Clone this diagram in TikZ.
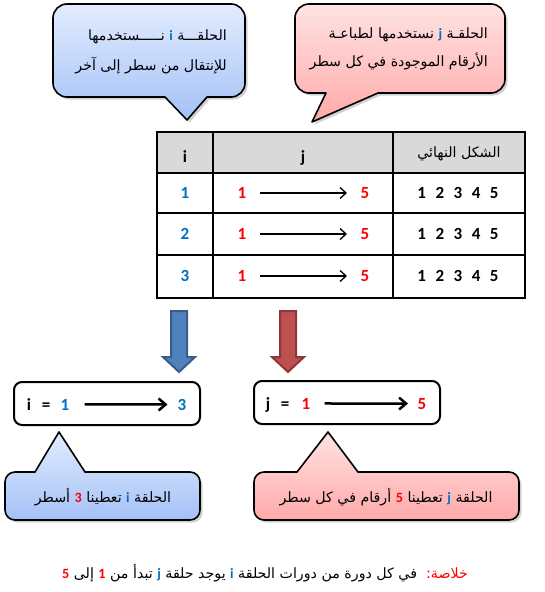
\documentclass[tikz,border=0pt]{standalone}
\usepackage{fontspec}
\setmainfont{Carlito}
\newfontfamily\arfont[Script=Arabic]{DejaVu Sans}
\TeXXeTstate=1
\usetikzlibrary{arrows.meta}
\definecolor{ib}{HTML}{0070C0}
\definecolor{jr}{HTML}{FF0000}
\definecolor{hdr}{HTML}{D9D9D9}
\definecolor{bluetop}{HTML}{E3ECFF}
\definecolor{bluebot}{HTML}{A3C1F6}
\definecolor{redtop}{HTML}{FFE3E3}
\definecolor{redbot}{HTML}{FFA9A9}
\definecolor{barfill}{HTML}{4F81BD}
\definecolor{barline}{HTML}{385D8A}
\definecolor{rarfill}{HTML}{C0504D}
\definecolor{rarline}{HTML}{8C3836}
\newcommand\AR[1]{{\arfont\beginR #1\endR}}
\newcommand\LB[1]{{\rmfamily\bfseries #1}}
\newcommand\digs{1\hskip 9.5pt 2\hskip 9.5pt 3\hskip 9.5pt 4\hskip 9.5pt 5}
\tikzset{
  num/.style={font=\fontsize{17}{20}\selectfont\bfseries, inner sep=0pt},
  artext/.style={font=\fontsize{14.2}{17}\selectfont\arfont, inner sep=0pt},
  grid/.style={line width=2pt, line cap=rect},
  thinarrow/.style={line width=1.3pt, -{Straight Barb[length=6pt,width=11pt]}},
  thickarrow/.style={line width=2.5pt, -{Straight Barb[length=7pt,width=12pt]}},
  outline/.style={draw=black, line width=1.6pt, line join=round},
  shadowed/.style={fill=black, opacity=0.18},
  bigarrow/.style={line width=2pt, line join=miter},
  loopbox/.style={draw=black, line width=2pt, rounded corners=8pt, fill=white},
}
\begin{document}
\begin{tikzpicture}[x=1pt,y=-1pt]
\useasboundingbox (0,0) rectangle (545,592);
% ---------- top blue callout ----------
\def\calA{(67,4) -- (231,4) arc[start angle=270,end angle=360,radius=14] -- (245,83) arc[start angle=0,end angle=90,radius=14] -- (207,97) -- (187,120) -- (165,97) -- (67,97) arc[start angle=90,end angle=180,radius=14] -- (53,18) arc[start angle=180,end angle=270,radius=14] -- cycle}
\fill[shadowed, shift={(2.5,2.5)}] \calA;
\shade[top color=bluetop, bottom color=bluebot] \calA;
\draw[outline] \calA;
\node[artext, anchor=base east] (ta1) at (227,40) {\AR{نـــــستخدمها} \textcolor{ib}{\LB{i}} \AR{الحلقـــة}};
\node[artext, anchor=base east] (ta2) at (227,70) {\AR{للإنتقال من سطر إلى آخر}};
% ---------- top red callout ----------
\def\calB{(309,4) -- (491,4) arc[start angle=270,end angle=360,radius=14] -- (505,79) arc[start angle=0,end angle=90,radius=14] -- (378,93) -- (312,122) -- (326,93) -- (309,93) arc[start angle=90,end angle=180,radius=14] -- (295,18) arc[start angle=180,end angle=270,radius=14] -- cycle}
\fill[shadowed, shift={(2.5,2.5)}] \calB;
\shade[top color=redtop, bottom color=redbot] \calB;
\draw[outline] \calB;
\node[artext, anchor=base east] (tb1) at (488,38) {\AR{نستخدمها لطباعـة} \textcolor{ib}{\LB{j}} \AR{الحلقـة}};
\node[artext, anchor=base east] (tb2) at (488,66) {\AR{الأرقام الموجودة في كل سطر}};
% ---------- table ----------
\fill[hdr] (157,132) rectangle (525,173);
\draw[grid] (157,132) rectangle (525,298);
\draw[grid] (157,173) -- (525,173);
\draw[grid] (157,213) -- (525,213);
\draw[grid] (157,255) -- (525,255);
\draw[grid] (213,132) -- (213,298);
\draw[grid] (393,132) -- (393,298);
\node[num, anchor=base] (hi) at (185,162) {i};
\node[num, anchor=base] (hj) at (303,162) {j};
\node[artext, anchor=base] (hf) at (459,157) {\AR{الشكل النهائي}};
\foreach \y/\n in {193/1,234/2,276/3}{
  \node[num, text=ib] (i\n) at (185,\y) {\n};
  \node[num, text=jr] (ja\n) at (242,\y) {1};
  \node[num, text=jr] (jb\n) at (365,\y) {5};
  \draw[thinarrow, shorten <=13.5pt, shorten >=13.5pt] (ja\n) -- (jb\n);
  \node[num] (f\n) at (458,\y) {\digs};
}
% ---------- big arrows ----------
\draw[bigarrow, fill=barfill, draw=barline] (171,311) -- (187,311) -- (187,357) -- (195,357) -- (179,372) -- (163,357) -- (171,357) -- cycle;
\draw[bigarrow, fill=rarfill, draw=rarline] (280,311) -- (296,311) -- (296,357) -- (304,357) -- (288,372) -- (272,357) -- (280,357) -- cycle;
% ---------- loop boxes ----------
\node[loopbox, minimum width=186pt, minimum height=43pt] (boxi) at (107,403.5) {};
\node[loopbox, minimum width=186pt, minimum height=43pt] (boxj) at (347,402.5) {};
\node[num, anchor=base] (bi) at (29,410) {i};
\node[num, anchor=base] (be1) at (46,410) {=};
\node[num, anchor=base, text=ib] (bi1) at (65,410) {1};
\node[num, anchor=base, text=ib] (bi3) at (182,410) {3};
\draw[thickarrow, shorten <=15pt, shorten >=10pt] (bi1) -- (bi3);
\node[num, anchor=base] (bj) at (268,409) {j};
\node[num, anchor=base] (be2) at (285,409) {=};
\node[num, anchor=base, text=jr] (bj1) at (306,409) {1};
\node[num, anchor=base, text=jr] (bj5) at (422,409) {5};
\draw[thickarrow, shorten <=14pt, shorten >=9.5pt] (bj1) -- (bj5);
% ---------- bottom blue callout ----------
\def\calC{(15,472) -- (35,472) -- (59,432) -- (85,472) -- (190,472) arc[start angle=270,end angle=360,radius=10] -- (200,510) arc[start angle=0,end angle=90,radius=10] -- (15,520) arc[start angle=90,end angle=180,radius=10] -- (5,482) arc[start angle=180,end angle=270,radius=10] -- cycle}
\fill[shadowed, shift={(2.5,2.5)}] \calC;
\shade[top color=bluetop, bottom color=bluebot] \calC;
\draw[outline] \calC;
\node[artext, anchor=base] (bc) at (103,502) {\AR{أسطر} \textcolor{jr}{\LB{3}} \AR{تعطينا} \textcolor{ib}{\LB{i}} \AR{الحلقة}};
% ---------- bottom red callout ----------
\def\calD{(264,472) -- (297,472) -- (328,432) -- (358,472) -- (509,472) arc[start angle=270,end angle=360,radius=10] -- (519,510) arc[start angle=0,end angle=90,radius=10] -- (264,520) arc[start angle=90,end angle=180,radius=10] -- (254,482) arc[start angle=180,end angle=270,radius=10] -- cycle}
\fill[shadowed, shift={(2.5,2.5)}] \calD;
\shade[top color=redtop, bottom color=redbot] \calD;
\draw[outline] \calD;
\node[artext, anchor=base] (bd) at (386,502) {\AR{أرقام في كل سطر} \textcolor{jr}{\LB{5}} \AR{تعطينا} \textcolor{ib}{\LB{j}} \AR{الحلقة}};
% ---------- conclusion ----------
\node[artext, anchor=base] (concl) at (265,578) {\textcolor{jr}{\LB{5}} \AR{إلى} \textcolor{jr}{\LB{1}} \AR{تبدأ من} \textcolor{ib}{\LB{j}} \AR{يوجد حلقة} \textcolor{ib}{\LB{i}} \AR{في كل دورة من دورات الحلقة}\ \ \textcolor{jr}{\AR{خلاصة:}}};
\end{tikzpicture}
\end{document}
